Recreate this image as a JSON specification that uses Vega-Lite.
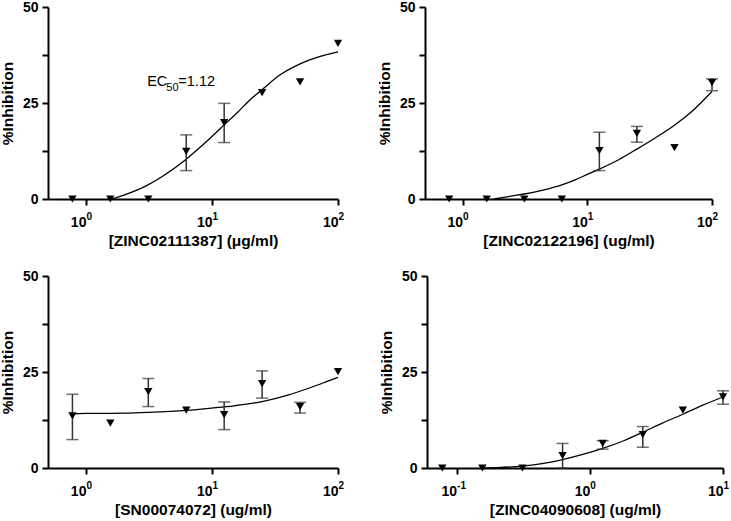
{
  "$schema": "https://vega.github.io/schema/vega-lite/v6.json",
  "background": "white",
  "padding": {"left": 0, "top": 0, "right": 0, "bottom": 0},
  "config": {
    "view": {"stroke": null},
    "font": "Liberation Sans",
    "axis": {
      "grid": false,
      "domainColor": "black",
      "domainWidth": 2,
      "tickColor": "black",
      "tickWidth": 2,
      "tickSize": 6,
      "labelFont": "Liberation Sans",
      "labelFontWeight": "bold",
      "labelFontSize": 14,
      "labelColor": "black",
      "labelPadding": 4,
      "titleFont": "Liberation Sans",
      "titleFontWeight": "bold",
      "titleFontSize": 15.5,
      "titleColor": "black"
    }
  },
  "datasets": {
    "points": [
      {"panel": 1, "c": 0.78125, "v": 0},
      {"panel": 1, "c": 1.5625, "v": 0},
      {"panel": 1, "c": 3.125, "v": 0},
      {"panel": 1, "c": 6.25, "v": 12.4, "lo": 7.4, "hi": 16.7},
      {"panel": 1, "c": 12.5, "v": 19.9, "lo": 14.7, "hi": 24.9},
      {"panel": 1, "c": 25, "v": 27.7},
      {"panel": 1, "c": 50, "v": 30.5},
      {"panel": 1, "c": 100, "v": 40.5},
      {"panel": 2, "c": 0.78125, "v": 0},
      {"panel": 2, "c": 1.5625, "v": 0},
      {"panel": 2, "c": 3.125, "v": 0},
      {"panel": 2, "c": 6.25, "v": 0},
      {"panel": 2, "c": 12.5, "v": 12.6, "lo": 7.4, "hi": 17.4},
      {"panel": 2, "c": 25, "v": 17.1, "lo": 14.8, "hi": 18.9},
      {"panel": 2, "c": 50, "v": 13.4},
      {"panel": 2, "c": 100, "v": 30.3, "lo": 28.2, "hi": 31.3},
      {"panel": 3, "c": 0.78125, "v": 13.6, "lo": 7.4, "hi": 19.2},
      {"panel": 3, "c": 1.5625, "v": 11.7},
      {"panel": 3, "c": 3.125, "v": 19.9, "lo": 16.0, "hi": 23.3},
      {"panel": 3, "c": 6.25, "v": 15.1},
      {"panel": 3, "c": 12.5, "v": 13.9, "lo": 10.0, "hi": 17.2},
      {"panel": 3, "c": 25, "v": 22.0, "lo": 18.2, "hi": 25.3},
      {"panel": 3, "c": 50, "v": 16.0, "lo": 14.3, "hi": 17.1},
      {"panel": 3, "c": 100, "v": 25.1},
      {"panel": 4, "c": 0.078125, "v": 0},
      {"panel": 4, "c": 0.15625, "v": 0},
      {"panel": 4, "c": 0.3125, "v": 0},
      {"panel": 4, "c": 0.625, "v": 3.2, "lo": 0, "hi": 6.4},
      {"panel": 4, "c": 1.25, "v": 6.4, "lo": 4.9, "hi": 7.1},
      {"panel": 4, "c": 2.5, "v": 8.7, "lo": 5.4, "hi": 10.8},
      {"panel": 4, "c": 5, "v": 15.1},
      {"panel": 4, "c": 10, "v": 18.5, "lo": 16.6, "hi": 20.1}
    ],
    "curves": [
      {"panel": 1, "c": 1.6, "v": 0},
      {"panel": 1, "c": 2, "v": 1.0},
      {"panel": 1, "c": 3, "v": 3.4},
      {"panel": 1, "c": 4, "v": 5.8},
      {"panel": 1, "c": 6, "v": 9.9},
      {"panel": 1, "c": 8, "v": 13.4},
      {"panel": 1, "c": 10, "v": 16.3},
      {"panel": 1, "c": 12.5, "v": 19.3},
      {"panel": 1, "c": 16, "v": 22.6},
      {"panel": 1, "c": 20, "v": 25.8},
      {"panel": 1, "c": 25, "v": 28.5},
      {"panel": 1, "c": 35, "v": 32.4},
      {"panel": 1, "c": 50, "v": 35.2},
      {"panel": 1, "c": 70, "v": 37.0},
      {"panel": 1, "c": 100, "v": 38.3},
      {"panel": 2, "c": 1.79, "v": 0},
      {"panel": 2, "c": 2.5, "v": 0.8},
      {"panel": 2, "c": 3.125, "v": 1.3},
      {"panel": 2, "c": 4.5, "v": 2.4},
      {"panel": 2, "c": 6.25, "v": 3.7},
      {"panel": 2, "c": 8, "v": 5.0},
      {"panel": 2, "c": 10, "v": 6.4},
      {"panel": 2, "c": 12.5, "v": 7.8},
      {"panel": 2, "c": 18, "v": 10.3},
      {"panel": 2, "c": 25, "v": 13.0},
      {"panel": 2, "c": 35, "v": 15.9},
      {"panel": 2, "c": 50, "v": 19.2},
      {"panel": 2, "c": 70, "v": 23.0},
      {"panel": 2, "c": 100, "v": 28.0},
      {"panel": 3, "c": 0.78, "v": 14.1},
      {"panel": 3, "c": 1, "v": 14.2},
      {"panel": 3, "c": 2, "v": 14.3},
      {"panel": 3, "c": 3.125, "v": 14.5},
      {"panel": 3, "c": 6.25, "v": 15.0},
      {"panel": 3, "c": 10, "v": 15.6},
      {"panel": 3, "c": 15, "v": 16.2},
      {"panel": 3, "c": 25, "v": 17.3},
      {"panel": 3, "c": 40, "v": 19.0},
      {"panel": 3, "c": 60, "v": 20.9},
      {"panel": 3, "c": 80, "v": 22.4},
      {"panel": 3, "c": 100, "v": 23.6},
      {"panel": 4, "c": 0.15, "v": 0},
      {"panel": 4, "c": 0.2, "v": 0.1},
      {"panel": 4, "c": 0.3125, "v": 0.5},
      {"panel": 4, "c": 0.45, "v": 1.2},
      {"panel": 4, "c": 0.625, "v": 2.2},
      {"panel": 4, "c": 0.9, "v": 3.6},
      {"panel": 4, "c": 1.25, "v": 5.1},
      {"panel": 4, "c": 1.8, "v": 7.1},
      {"panel": 4, "c": 2.5, "v": 9.3},
      {"panel": 4, "c": 3.5, "v": 11.7},
      {"panel": 4, "c": 5, "v": 14.0},
      {"panel": 4, "c": 7, "v": 16.3},
      {"panel": 4, "c": 10, "v": 18.5}
    ],
    "notes": [
      {"c": 3.06, "v": 29.4, "label": "EC"},
      {"c": 5.41, "v": 29.4, "label": "=1.12"}
    ],
    "subs": [
      {"c": 4.34, "v": 28.1, "label": "50"}
    ]
  },
  "spacing": 20,
  "vconcat": [
    {
      "spacing": 33,
      "hconcat": [
        {
          "width": 290,
          "height": 192,
          "resolve": {"axis": {"x": "independent"}},
          "layer": [
            {"data": {"name": "curves"}, "transform": [{"filter": "datum.panel == 1"}], "mark": {"type": "line", "color": "black", "strokeWidth": 1.3, "interpolate": "monotone"},
              "encoding": {
                "x": {"field": "c", "type": "quantitative", "scale": {"type": "log", "domain": [0.5, 100], "nice": false},
                  "axis": {"title": "[ZINC02111387] (μg/ml)", "values": [1, 10, 100], "labelExpr": "'10'", "labelAlign": "right", "labelDx": 4, "labelPadding": 10, "titlePadding": 4}},
                "y": {"field": "v", "type": "quantitative", "scale": {"domain": [0, 50], "nice": false},
                  "axis": {"title": "%Inhibition", "values": [0, 12.5, 25, 37.5, 50], "labelExpr": "datum.value % 25 == 0 ? datum.label : ''", "titlePadding": 7}}
              }},
            {"data": {"name": "points"}, "transform": [{"filter": "datum.panel == 1 && isValid(datum.lo)"}], "mark": {"type": "rule", "color": "#333", "strokeWidth": 1.5},
              "encoding": {"x": {"field": "c", "type": "quantitative", "scale": {"type": "log", "domain": [0.5, 100], "nice": false}, "axis": null}, "y": {"field": "lo", "type": "quantitative", "scale": {"domain": [0, 50], "nice": false}}, "y2": {"field": "hi"}}},
            {"data": {"name": "points"}, "transform": [{"filter": "datum.panel == 1 && isValid(datum.lo)"}], "mark": {"type": "tick", "orient": "horizontal", "color": "#333", "size": 12, "thickness": 1.5},
              "encoding": {"x": {"field": "c", "type": "quantitative", "scale": {"type": "log", "domain": [0.5, 100], "nice": false}, "axis": null}, "y": {"field": "lo", "type": "quantitative", "scale": {"domain": [0, 50], "nice": false}}}},
            {"data": {"name": "points"}, "transform": [{"filter": "datum.panel == 1 && isValid(datum.hi)"}], "mark": {"type": "tick", "orient": "horizontal", "color": "#333", "size": 12, "thickness": 1.5},
              "encoding": {"x": {"field": "c", "type": "quantitative", "scale": {"type": "log", "domain": [0.5, 100], "nice": false}, "axis": null}, "y": {"field": "hi", "type": "quantitative", "scale": {"domain": [0, 50], "nice": false}}}},
            {"data": {"name": "points"}, "transform": [{"filter": "datum.panel == 1"}], "mark": {"type": "point", "shape": "triangle-down", "filled": true, "color": "black", "opacity": 1, "size": 70},
              "encoding": {
                "x": {"field": "c", "type": "quantitative", "scale": {"type": "log", "domain": [0.5, 100], "nice": false},
                  "axis": {"orient": "bottom", "title": null, "domain": false, "ticks": false, "tickSize": 0, "values": [1, 10, 100], "labelExpr": "datum.value == 1 ? '0' : datum.value == 10 ? '1' : '2'", "labelAlign": "left", "labelDx": 4, "labelPadding": 12, "labelFontSize": 10}},
                "y": {"field": "v", "type": "quantitative", "scale": {"domain": [0, 50], "nice": false}}
              }},
            {"data": {"name": "notes"}, "mark": {"type": "text", "align": "left", "baseline": "alphabetic", "fontSize": 14.5, "color": "black", "font": "Liberation Sans"},
              "encoding": {"x": {"field": "c", "type": "quantitative", "scale": {"type": "log", "domain": [0.5, 100], "nice": false}, "axis": null}, "y": {"field": "v", "type": "quantitative", "scale": {"domain": [0, 50], "nice": false}}, "text": {"field": "label"}}},
            {"data": {"name": "subs"}, "mark": {"type": "text", "align": "left", "baseline": "alphabetic", "fontSize": 11, "color": "black", "font": "Liberation Sans"},
              "encoding": {"x": {"field": "c", "type": "quantitative", "scale": {"type": "log", "domain": [0.5, 100], "nice": false}, "axis": null}, "y": {"field": "v", "type": "quantitative", "scale": {"domain": [0, 50], "nice": false}}, "text": {"field": "label"}}}
          ]
        },
        {
          "width": 287,
          "height": 192,
          "resolve": {"axis": {"x": "independent"}},
          "layer": [
            {"data": {"name": "curves"}, "transform": [{"filter": "datum.panel == 2"}], "mark": {"type": "line", "color": "black", "strokeWidth": 1.3, "interpolate": "monotone"},
              "encoding": {
                "x": {"field": "c", "type": "quantitative", "scale": {"type": "log", "domain": [0.5, 100], "nice": false},
                  "axis": {"title": "[ZINC02122196] (ug/ml)", "values": [1, 10, 100], "labelExpr": "'10'", "labelAlign": "right", "labelDx": 4, "labelPadding": 10, "titlePadding": 4}},
                "y": {"field": "v", "type": "quantitative", "scale": {"domain": [0, 50], "nice": false},
                  "axis": {"title": "%Inhibition", "values": [0, 12.5, 25, 37.5, 50], "labelExpr": "datum.value % 25 == 0 ? datum.label : ''", "titlePadding": 7}}
              }},
            {"data": {"name": "points"}, "transform": [{"filter": "datum.panel == 2 && isValid(datum.lo)"}], "mark": {"type": "rule", "color": "#333", "strokeWidth": 1.5},
              "encoding": {"x": {"field": "c", "type": "quantitative", "scale": {"type": "log", "domain": [0.5, 100], "nice": false}, "axis": null}, "y": {"field": "lo", "type": "quantitative", "scale": {"domain": [0, 50], "nice": false}}, "y2": {"field": "hi"}}},
            {"data": {"name": "points"}, "transform": [{"filter": "datum.panel == 2 && isValid(datum.lo)"}], "mark": {"type": "tick", "orient": "horizontal", "color": "#333", "size": 12, "thickness": 1.5},
              "encoding": {"x": {"field": "c", "type": "quantitative", "scale": {"type": "log", "domain": [0.5, 100], "nice": false}, "axis": null}, "y": {"field": "lo", "type": "quantitative", "scale": {"domain": [0, 50], "nice": false}}}},
            {"data": {"name": "points"}, "transform": [{"filter": "datum.panel == 2 && isValid(datum.hi)"}], "mark": {"type": "tick", "orient": "horizontal", "color": "#333", "size": 12, "thickness": 1.5},
              "encoding": {"x": {"field": "c", "type": "quantitative", "scale": {"type": "log", "domain": [0.5, 100], "nice": false}, "axis": null}, "y": {"field": "hi", "type": "quantitative", "scale": {"domain": [0, 50], "nice": false}}}},
            {"data": {"name": "points"}, "transform": [{"filter": "datum.panel == 2"}], "mark": {"type": "point", "shape": "triangle-down", "filled": true, "color": "black", "opacity": 1, "size": 70},
              "encoding": {
                "x": {"field": "c", "type": "quantitative", "scale": {"type": "log", "domain": [0.5, 100], "nice": false},
                  "axis": {"orient": "bottom", "title": null, "domain": false, "ticks": false, "tickSize": 0, "values": [1, 10, 100], "labelExpr": "datum.value == 1 ? '0' : datum.value == 10 ? '1' : '2'", "labelAlign": "left", "labelDx": 4, "labelPadding": 12, "labelFontSize": 10}},
                "y": {"field": "v", "type": "quantitative", "scale": {"domain": [0, 50], "nice": false}}
              }}
          ]
        }
      ]
    },
    {
      "spacing": 35,
      "hconcat": [
        {
          "width": 290,
          "height": 192,
          "resolve": {"axis": {"x": "independent"}},
          "layer": [
            {"data": {"name": "curves"}, "transform": [{"filter": "datum.panel == 3"}], "mark": {"type": "line", "color": "black", "strokeWidth": 1.3, "interpolate": "monotone"},
              "encoding": {
                "x": {"field": "c", "type": "quantitative", "scale": {"type": "log", "domain": [0.5, 100], "nice": false},
                  "axis": {"title": "[SN00074072] (ug/ml)", "values": [1, 10, 100], "labelExpr": "'10'", "labelAlign": "right", "labelDx": 4, "labelPadding": 10, "titlePadding": 4}},
                "y": {"field": "v", "type": "quantitative", "scale": {"domain": [0, 50], "nice": false},
                  "axis": {"title": "%Inhibition", "values": [0, 12.5, 25, 37.5, 50], "labelExpr": "datum.value % 25 == 0 ? datum.label : ''", "titlePadding": 7}}
              }},
            {"data": {"name": "points"}, "transform": [{"filter": "datum.panel == 3 && isValid(datum.lo)"}], "mark": {"type": "rule", "color": "#333", "strokeWidth": 1.5},
              "encoding": {"x": {"field": "c", "type": "quantitative", "scale": {"type": "log", "domain": [0.5, 100], "nice": false}, "axis": null}, "y": {"field": "lo", "type": "quantitative", "scale": {"domain": [0, 50], "nice": false}}, "y2": {"field": "hi"}}},
            {"data": {"name": "points"}, "transform": [{"filter": "datum.panel == 3 && isValid(datum.lo)"}], "mark": {"type": "tick", "orient": "horizontal", "color": "#333", "size": 12, "thickness": 1.5},
              "encoding": {"x": {"field": "c", "type": "quantitative", "scale": {"type": "log", "domain": [0.5, 100], "nice": false}, "axis": null}, "y": {"field": "lo", "type": "quantitative", "scale": {"domain": [0, 50], "nice": false}}}},
            {"data": {"name": "points"}, "transform": [{"filter": "datum.panel == 3 && isValid(datum.hi)"}], "mark": {"type": "tick", "orient": "horizontal", "color": "#333", "size": 12, "thickness": 1.5},
              "encoding": {"x": {"field": "c", "type": "quantitative", "scale": {"type": "log", "domain": [0.5, 100], "nice": false}, "axis": null}, "y": {"field": "hi", "type": "quantitative", "scale": {"domain": [0, 50], "nice": false}}}},
            {"data": {"name": "points"}, "transform": [{"filter": "datum.panel == 3"}], "mark": {"type": "point", "shape": "triangle-down", "filled": true, "color": "black", "opacity": 1, "size": 70},
              "encoding": {
                "x": {"field": "c", "type": "quantitative", "scale": {"type": "log", "domain": [0.5, 100], "nice": false},
                  "axis": {"orient": "bottom", "title": null, "domain": false, "ticks": false, "tickSize": 0, "values": [1, 10, 100], "labelExpr": "datum.value == 1 ? '0' : datum.value == 10 ? '1' : '2'", "labelAlign": "left", "labelDx": 4, "labelPadding": 12, "labelFontSize": 10}},
                "y": {"field": "v", "type": "quantitative", "scale": {"domain": [0, 50], "nice": false}}
              }}
          ]
        },
        {
          "width": 296,
          "height": 192,
          "resolve": {"axis": {"x": "independent"}},
          "layer": [
            {"data": {"name": "curves"}, "transform": [{"filter": "datum.panel == 4"}], "mark": {"type": "line", "color": "black", "strokeWidth": 1.3, "interpolate": "monotone"},
              "encoding": {
                "x": {"field": "c", "type": "quantitative", "scale": {"type": "log", "domain": [0.06, 10], "nice": false},
                  "axis": {"title": "[ZINC04090608] (ug/ml)", "values": [0.1, 1, 10], "labelExpr": "'10'", "labelAlign": "right", "labelDx": 4, "labelPadding": 10, "titlePadding": 4}},
                "y": {"field": "v", "type": "quantitative", "scale": {"domain": [0, 50], "nice": false},
                  "axis": {"title": "%Inhibition", "values": [0, 12.5, 25, 37.5, 50], "labelExpr": "datum.value % 25 == 0 ? datum.label : ''", "titlePadding": 7}}
              }},
            {"data": {"name": "points"}, "transform": [{"filter": "datum.panel == 4 && isValid(datum.lo)"}], "mark": {"type": "rule", "color": "#333", "strokeWidth": 1.5},
              "encoding": {"x": {"field": "c", "type": "quantitative", "scale": {"type": "log", "domain": [0.06, 10], "nice": false}, "axis": null}, "y": {"field": "lo", "type": "quantitative", "scale": {"domain": [0, 50], "nice": false}}, "y2": {"field": "hi"}}},
            {"data": {"name": "points"}, "transform": [{"filter": "datum.panel == 4 && isValid(datum.lo)"}], "mark": {"type": "tick", "orient": "horizontal", "color": "#333", "size": 12, "thickness": 1.5},
              "encoding": {"x": {"field": "c", "type": "quantitative", "scale": {"type": "log", "domain": [0.06, 10], "nice": false}, "axis": null}, "y": {"field": "lo", "type": "quantitative", "scale": {"domain": [0, 50], "nice": false}}}},
            {"data": {"name": "points"}, "transform": [{"filter": "datum.panel == 4 && isValid(datum.hi)"}], "mark": {"type": "tick", "orient": "horizontal", "color": "#333", "size": 12, "thickness": 1.5},
              "encoding": {"x": {"field": "c", "type": "quantitative", "scale": {"type": "log", "domain": [0.06, 10], "nice": false}, "axis": null}, "y": {"field": "hi", "type": "quantitative", "scale": {"domain": [0, 50], "nice": false}}}},
            {"data": {"name": "points"}, "transform": [{"filter": "datum.panel == 4"}], "mark": {"type": "point", "shape": "triangle-down", "filled": true, "color": "black", "opacity": 1, "size": 70},
              "encoding": {
                "x": {"field": "c", "type": "quantitative", "scale": {"type": "log", "domain": [0.06, 10], "nice": false},
                  "axis": {"orient": "bottom", "title": null, "domain": false, "ticks": false, "tickSize": 0, "values": [0.1, 1, 10], "labelExpr": "datum.value < 0.5 ? '-1' : datum.value < 5 ? '0' : '1'", "labelAlign": "left", "labelDx": 4, "labelPadding": 12, "labelFontSize": 10}},
                "y": {"field": "v", "type": "quantitative", "scale": {"domain": [0, 50], "nice": false}}
              }}
          ]
        }
      ]
    }
  ]
}
